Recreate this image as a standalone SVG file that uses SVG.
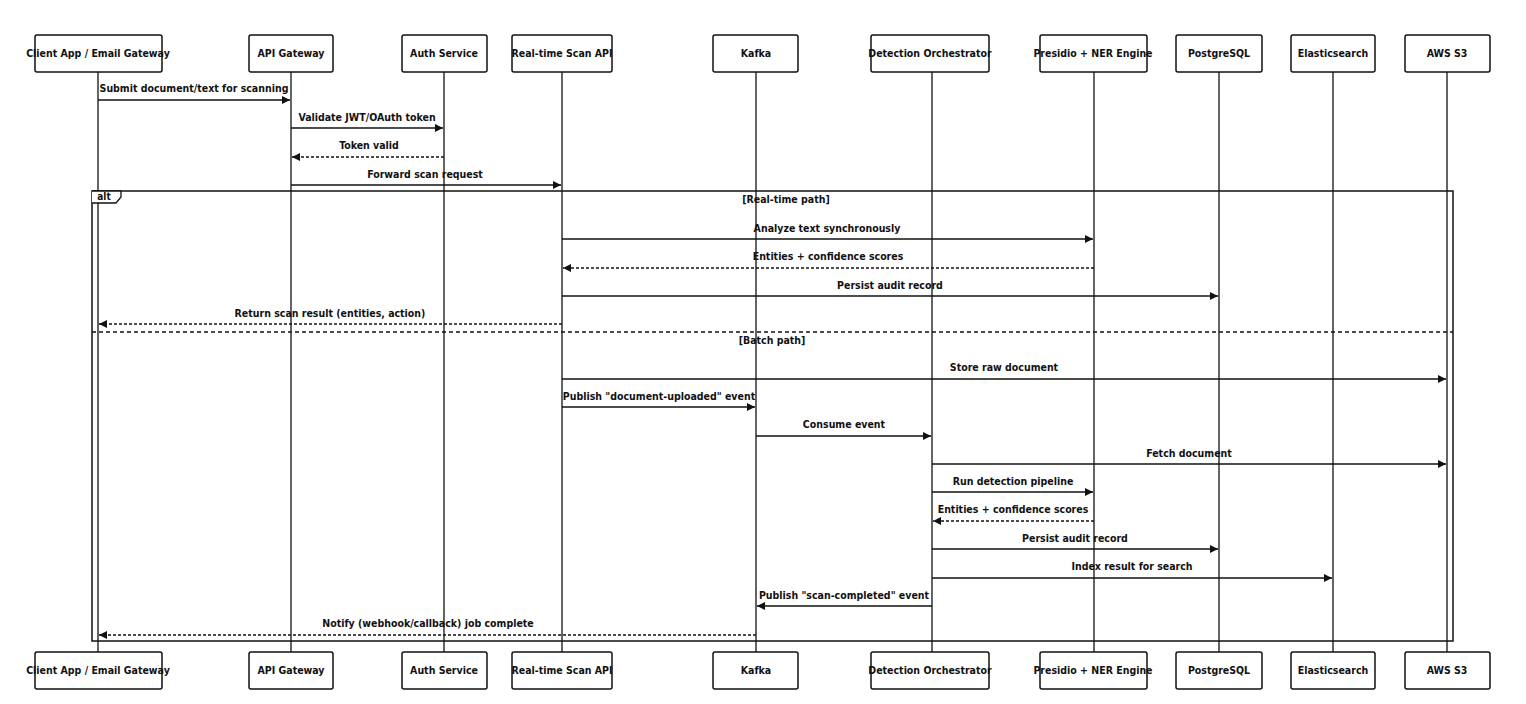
<svg xmlns="http://www.w3.org/2000/svg" width="1526" height="704" viewBox="0 0 1526 704">
<style>
text{font-family:"DejaVu Sans Condensed","Liberation Sans Narrow","Liberation Sans",sans-serif;font-size:10.5px;font-weight:bold;fill:#111;text-anchor:middle}
.box{fill:#fff;stroke:#111;stroke-width:1.5}
.life{stroke:#111;stroke-width:1.3}
.m{stroke:#111;stroke-width:1.3;fill:none;marker-end:url(#a)}
.d{stroke-dasharray:3,2}
</style>
<defs><marker id="a" markerWidth="8" markerHeight="8" refX="8" refY="4" orient="auto" markerUnits="userSpaceOnUse"><path d="M0,0L8,4L0,8z" fill="#111"/></marker></defs>
<rect width="1526" height="704" fill="#fff"/>
<g id="lifelines">
<line class="life" x1="98" y1="72" x2="98" y2="652"/><line class="life" x1="291" y1="72" x2="291" y2="652"/><line class="life" x1="444" y1="72" x2="444" y2="652"/><line class="life" x1="562" y1="72" x2="562" y2="652"/><line class="life" x1="756" y1="72" x2="756" y2="652"/><line class="life" x1="932" y1="72" x2="932" y2="652"/><line class="life" x1="1094" y1="72" x2="1094" y2="652"/><line class="life" x1="1219" y1="72" x2="1219" y2="652"/><line class="life" x1="1333" y1="72" x2="1333" y2="652"/><line class="life" x1="1447" y1="72" x2="1447" y2="652"/>
</g>
<g id="alt">
<rect x="92" y="191" width="1361" height="450" fill="none" stroke="#111" stroke-width="1.5"/>
<path d="M92,191H121V197L116,203H92" fill="#fff" stroke="#111" stroke-width="1.3"/>
<text x="104" y="200" style="font-size:10px">alt</text>
<text x="786" y="203">[Real-time path]</text>
<line x1="92" y1="332" x2="1453" y2="332" stroke="#111" stroke-width="1.3" stroke-dasharray="4,3"/>
<text x="772" y="344">[Batch path]</text>
</g>
<g id="n1"><rect class="box" x="35" y="35" width="127" height="37" rx="2"/><text x="98" y="57">Client App / Email Gateway</text><rect class="box" x="35" y="652" width="127" height="37" rx="2"/><text x="98" y="674">Client App / Email Gateway</text></g>
<g id="n2"><rect class="box" x="249" y="35" width="84" height="37" rx="2"/><text x="291" y="57">API Gateway</text><rect class="box" x="249" y="652" width="84" height="37" rx="2"/><text x="291" y="674">API Gateway</text></g>
<g id="n3"><rect class="box" x="402" y="35" width="85" height="37" rx="2"/><text x="444" y="57">Auth Service</text><rect class="box" x="402" y="652" width="85" height="37" rx="2"/><text x="444" y="674">Auth Service</text></g>
<g id="n4"><rect class="box" x="512" y="35" width="100" height="37" rx="2"/><text x="562" y="57">Real-time Scan API</text><rect class="box" x="512" y="652" width="100" height="37" rx="2"/><text x="562" y="674">Real-time Scan API</text></g>
<g id="n5"><rect class="box" x="713" y="35" width="85" height="37" rx="2"/><text x="756" y="57">Kafka</text><rect class="box" x="713" y="652" width="85" height="37" rx="2"/><text x="756" y="674">Kafka</text></g>
<g id="n6"><rect class="box" x="871" y="35" width="118" height="37" rx="2"/><text x="930" y="57">Detection Orchestrator</text><rect class="box" x="871" y="652" width="118" height="37" rx="2"/><text x="930" y="674">Detection Orchestrator</text></g>
<g id="n7"><rect class="box" x="1040" y="35" width="107" height="37" rx="2"/><text x="1093" y="57">Presidio + NER Engine</text><rect class="box" x="1040" y="652" width="107" height="37" rx="2"/><text x="1093" y="674">Presidio + NER Engine</text></g>
<g id="n8"><rect class="box" x="1176" y="35" width="86" height="37" rx="2"/><text x="1219" y="57">PostgreSQL</text><rect class="box" x="1176" y="652" width="86" height="37" rx="2"/><text x="1219" y="674">PostgreSQL</text></g>
<g id="n9"><rect class="box" x="1291" y="35" width="84" height="37" rx="2"/><text x="1333" y="57">Elasticsearch</text><rect class="box" x="1291" y="652" width="84" height="37" rx="2"/><text x="1333" y="674">Elasticsearch</text></g>
<g id="n10"><rect class="box" x="1405" y="35" width="85" height="37" rx="2"/><text x="1447" y="57">AWS S3</text><rect class="box" x="1405" y="652" width="85" height="37" rx="2"/><text x="1447" y="674">AWS S3</text></g>
<g id="connectors">
<line class="m" x1="98" y1="100" x2="290" y2="100"/><text x="194" y="92">Submit document/text for scanning</text>
<line class="m" x1="291" y1="128" x2="443" y2="128"/><text x="367" y="121">Validate JWT/OAuth token</text>
<line class="m d" x1="444" y1="157" x2="292" y2="157"/><text x="369" y="149">Token valid</text>
<line class="m" x1="291" y1="185" x2="561" y2="185"/><text x="425" y="178">Forward scan request</text>
<line class="m" x1="562" y1="239" x2="1093" y2="239"/><text x="827" y="232">Analyze text synchronously</text>
<line class="m d" x1="1094" y1="268" x2="563" y2="268"/><text x="828" y="260">Entities + confidence scores</text>
<line class="m" x1="562" y1="296" x2="1218" y2="296"/><text x="890" y="289">Persist audit record</text>
<line class="m d" x1="562" y1="324" x2="99" y2="324"/><text x="330" y="317">Return scan result (entities, action)</text>
<line class="m" x1="562" y1="379" x2="1446" y2="379"/><text x="1004" y="371">Store raw document</text>
<line class="m" x1="562" y1="407" x2="755" y2="407"/><text x="659" y="400">Publish "document-uploaded" event</text>
<line class="m" x1="756" y1="436" x2="931" y2="436"/><text x="844" y="428">Consume event</text>
<line class="m" x1="932" y1="464" x2="1446" y2="464"/><text x="1189" y="457">Fetch document</text>
<line class="m" x1="932" y1="492" x2="1093" y2="492"/><text x="1013" y="485">Run detection pipeline</text>
<line class="m d" x1="1094" y1="521" x2="933" y2="521"/><text x="1013" y="513">Entities + confidence scores</text>
<line class="m" x1="932" y1="549" x2="1218" y2="549"/><text x="1075" y="542">Persist audit record</text>
<line class="m" x1="932" y1="578" x2="1332" y2="578"/><text x="1132" y="570">Index result for search</text>
<line class="m" x1="932" y1="606" x2="757" y2="606"/><text x="844" y="599">Publish "scan-completed" event</text>
<line class="m d" x1="756" y1="635" x2="99" y2="635"/><text x="428" y="627">Notify (webhook/callback) job complete</text>
</g>
</svg>
